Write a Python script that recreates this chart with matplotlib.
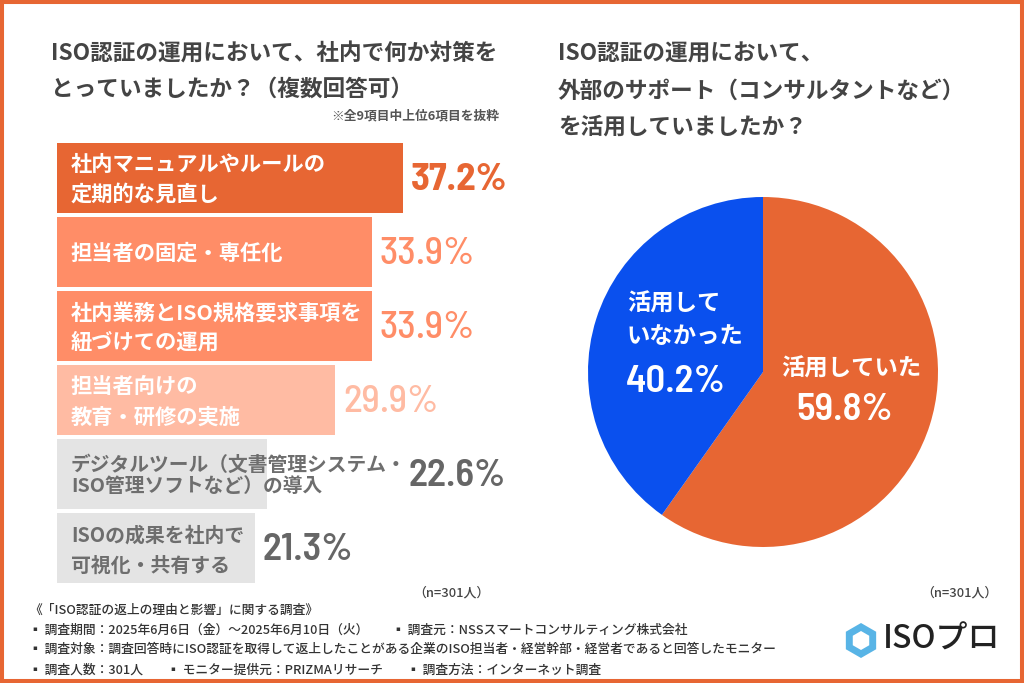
import matplotlib
matplotlib.use("Agg")
import matplotlib.pyplot as plt
from matplotlib.patches import Rectangle, RegularPolygon

JP = ['Noto Sans CJK JP', 'DejaVu Sans']
NUM = ['Barlow Semi Condensed', 'Roboto Condensed', 'Sofia Sans Semi Condensed', 'Roboto']
plt.rcParams['font.family'] = JP

W, H = 1024, 683

bar_labels = ["社内マニュアルやルールの\n定期的な見直し", "担当者の固定・専任化",
              "社内業務とISO規格要求事項を\n紐づけての運用", "担当者向けの\n教育・研修の実施",
              "デジタルツール（文書管理システム・\nISO管理ソフトなど）の導入", "ISOの成果を社内で\n可視化・共有する"]
bar_values = [37.2, 33.9, 33.9, 29.9, 22.6, 21.3]
bar_colors = ["#E76633", "#FF8D67", "#FF8D67", "#FFBBA3", "#E4E4E4", "#E4E4E4"]
bar_text_colors = ["white", "white", "white", "white", "#6E6E6E", "#6E6E6E"]
value_colors = ["#E76633", "#FF8D67", "#FF8D67", "#FFBBA3", "#666666", "#666666"]

pie_labels = ["活用していた", "活用して\nいなかった"]
pie_values = [59.8, 40.2]
pie_colors = ["#E76633", "#0A50EE"]

title_left = "ISO認証の運用において、社内で何か対策を\nとっていましたか？（複数回答可）"
title_right = "ISO認証の運用において、\n外部のサポート（コンサルタントなど）\nを活用していましたか？"
note = "※全9項目中上位6項目を抜粋"
n_label = "（n=301人）"
footer_title = "《「ISO認証の返上の理由と影響」に関する調査》"
footer_lines = [
    [(29, "▪ 調査期間：2025年6月6日（金）～2025年6月10日（火）"), (392, "▪ 調査元：NSSスマートコンサルティング株式会社")],
    [(29, "▪ 調査対象：調査回答時にISO認証を取得して返上したことがある企業のISO担当者・経営幹部・経営者であると回答したモニター")],
    [(29, "▪ 調査人数：301人"), (167, "▪ モニター提供元：PRIZMAリサーチ"), (407, "▪ 調査方法：インターネット調査")],
]

# per-row text styling
label_sizes = [15.3, 15.3, 15.3, 15.3, 14.2, 14.3]
label_spacing = [1.5, 1.5, 1.42, 1.585, 1.17, 1.5]
value_weights = ["bold", "medium", "medium", "medium", "semibold", "semibold"]
value_gap_pt = [5.5, 5.5, 5.5, 6, 102, 5.5]

fig = plt.figure(figsize=(W / 100, H / 100), dpi=100, facecolor="white")


def T(x, y, s, **kw):
    kw.setdefault("va", "center")
    return fig.text(x / W, 1 - y / H, s, **kw)


def axes_px(x0, y0, x1, y1):
    return fig.add_axes([x0 / W, 1 - y1 / H, (x1 - x0) / W, (y1 - y0) / H])


# frame
fig.add_artist(Rectangle((0, 0), 1, 1, transform=fig.transFigure, fill=False,
                         edgecolor="#E76633", linewidth=5.8, zorder=10))

# bars
ax = axes_px(57, 140.5, 57 + 9.3 * 45, 585.5)
ax.barh(range(len(bar_values)), bar_values, height=0.945, color=bar_colors)
ax.set_xlim(0, 45)
ax.set_ylim(len(bar_values) - 0.5, -0.5)
ax.axis("off")
for i, (lab, v) in enumerate(zip(bar_labels, bar_values)):
    ax.annotate(lab, (0, i), xytext=(10, -1.2), textcoords="offset points", va="center", ha="left",
                fontsize=label_sizes[i], fontweight="bold", color=bar_text_colors[i],
                linespacing=label_spacing[i], annotation_clip=False)
    ax.annotate(f"{v}%", (v, i), xytext=(value_gap_pt[i], -1.5), textcoords="offset points",
                va="center", ha="left", fontsize=28, fontweight=value_weights[i],
                color=value_colors[i], family=NUM)

# pie
axp = axes_px(588, 197, 938, 547)
wedges, _ = axp.pie(pie_values, colors=pie_colors, startangle=90, counterclock=False, radius=1.0)
axp.set_xlim(-1, 1)
axp.set_ylim(-1, 1)

# pie labels
T(851, 369, pie_labels[0], ha="center", color="white", fontsize=16.8, fontweight="bold")
T(845, 410, f"{pie_values[0]}%", ha="center", color="white", fontsize=28, fontweight="semibold", family=NUM)
T(627, 320, pie_labels[1], ha="left", color="white", fontsize=16.8, fontweight="bold", linespacing=1.45)
T(676, 382, f"{pie_values[1]}%", ha="center", color="white", fontsize=28, fontweight="semibold", family=NUM)

# titles
T(51, 72, title_left, ha="left", color="#444444", fontsize=16.3, fontweight="bold", linespacing=1.68)
T(558, 91, title_right, ha="left", color="#444444", fontsize=16.3, fontweight="bold", linespacing=1.75)
T(499, 116, note, ha="right", color="#555555", fontsize=9.2, fontweight="bold")
T(489, 592.5, n_label, ha="right", color="#444444", fontsize=9.3, fontweight="medium")
T(998, 592.5, n_label, ha="right", color="#444444", fontsize=9.3, fontweight="medium")

# footer
T(29, 610, footer_title, ha="left", color="#333333", fontsize=9.2, fontweight="medium")
for row_y, row in zip([630, 649.5, 670], footer_lines):
    for x, s in row:
        T(x, row_y, s, ha="left", color="#333333", fontsize=9.2, fontweight="medium")

# logo
cx, cy = 861, 640.5
for r, c in [(17.5, "#58B4E6"), (9.5, "white")]:
    fig.add_artist(RegularPolygon((cx, H - cy), 6, radius=r, orientation=0, facecolor=c, edgecolor="none",
                                  transform=None))
T(883, 640, "ISOプロ", ha="left", color="#222222", fontsize=23, fontweight="medium")

fig.savefig("out.png", dpi=100, facecolor="white")
